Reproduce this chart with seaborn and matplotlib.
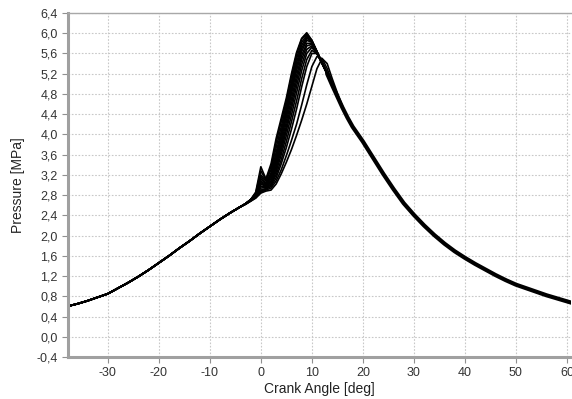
import pandas as pd
import seaborn as sns
import matplotlib.pyplot as plt
from matplotlib.ticker import FuncFormatter, MultipleLocator

# compression stroke, same for all cycles
comp_angle = [-38, -36, -34, -32, -30, -28, -26, -24, -22, -20, -18, -16, -14, -12, -10, -8, -6, -4]
comp_p = [0.60, 0.65, 0.71, 0.78, 0.85, 0.96, 1.07, 1.19, 1.32, 1.46, 1.60, 1.75, 1.89, 2.04,
          2.18, 2.32, 2.45, 2.57]

# expansion stroke, same for all cycles
exp_angle = [13, 14, 15, 16, 17, 18, 20, 22, 24, 26, 28, 30, 32, 34, 36, 38, 40,
             42, 44, 46, 48, 50, 52, 54, 56, 58, 61]
exp_p = [5.20, 4.97, 4.75, 4.53, 4.33, 4.15, 3.86, 3.54, 3.22, 2.92, 2.64, 2.41, 2.20,
         2.01, 1.84, 1.69, 1.56, 1.44, 1.33, 1.22, 1.12, 1.03, 0.96, 0.89, 0.82, 0.76, 0.67]

# combustion region, one list per cycle
comb_angle = [-3, -2, -1, 0, 1, 2, 3, 4, 5, 6, 7, 8, 9, 10, 11, 12, 13, 14, 15, 16, 17]
cycles = {
    'c01': [2.63, 2.71, 2.86, 3.36, 3.12, 3.42, 3.92, 4.32, 4.72, 5.20, 5.62, 5.90, 6.01, 5.86, 5.64, 5.42, 5.20, 4.97, 4.75, 4.53, 4.33],
    'c02': [2.63, 2.71, 2.84, 3.28, 3.10, 3.36, 3.84, 4.25, 4.66, 5.14, 5.58, 5.88, 5.99, 5.86, 5.64, 5.42, 5.20, 4.97, 4.75, 4.53, 4.33],
    'c03': [2.63, 2.71, 2.82, 3.20, 3.08, 3.30, 3.74, 4.15, 4.58, 5.04, 5.50, 5.82, 5.96, 5.85, 5.64, 5.42, 5.20, 4.97, 4.75, 4.53, 4.33],
    'c04': [2.63, 2.71, 2.82, 3.16, 3.04, 3.24, 3.64, 4.06, 4.50, 4.96, 5.42, 5.76, 5.93, 5.84, 5.63, 5.42, 5.20, 4.97, 4.75, 4.53, 4.33],
    'c05': [2.63, 2.71, 2.80, 3.12, 3.02, 3.20, 3.56, 3.98, 4.42, 4.88, 5.34, 5.70, 5.90, 5.83, 5.63, 5.42, 5.20, 4.97, 4.75, 4.53, 4.33],
    'c06': [2.63, 2.71, 2.80, 3.08, 3.00, 3.16, 3.50, 3.90, 4.34, 4.80, 5.26, 5.64, 5.86, 5.82, 5.62, 5.41, 5.20, 4.97, 4.75, 4.53, 4.33],
    'c07': [2.63, 2.70, 2.79, 3.05, 2.98, 3.12, 3.44, 3.82, 4.25, 4.70, 5.16, 5.56, 5.80, 5.80, 5.62, 5.41, 5.20, 4.97, 4.75, 4.53, 4.33],
    'c08': [2.63, 2.70, 2.78, 3.02, 2.97, 3.08, 3.38, 3.75, 4.16, 4.60, 5.06, 5.48, 5.75, 5.78, 5.61, 5.40, 5.20, 4.97, 4.75, 4.53, 4.33],
    'c09': [2.63, 2.70, 2.78, 2.98, 2.96, 3.05, 3.32, 3.68, 4.08, 4.50, 4.95, 5.38, 5.68, 5.75, 5.60, 5.40, 5.19, 4.97, 4.75, 4.53, 4.33],
    'c10': [2.63, 2.70, 2.77, 2.94, 2.95, 3.02, 3.26, 3.60, 3.98, 4.38, 4.82, 5.26, 5.60, 5.72, 5.60, 5.40, 5.19, 4.97, 4.75, 4.53, 4.33],
    'c11': [2.62, 2.69, 2.77, 2.90, 2.93, 3.00, 3.20, 3.50, 3.86, 4.25, 4.66, 5.10, 5.48, 5.66, 5.60, 5.42, 5.20, 4.97, 4.75, 4.53, 4.33],
    'c12': [2.62, 2.69, 2.76, 2.88, 2.92, 2.97, 3.14, 3.42, 3.74, 4.10, 4.50, 4.94, 5.34, 5.60, 5.60, 5.44, 5.22, 4.98, 4.75, 4.53, 4.33],
    'c13': [2.62, 2.68, 2.75, 2.86, 2.90, 2.94, 3.08, 3.30, 3.58, 3.88, 4.20, 4.58, 4.98, 5.34, 5.54, 5.50, 5.30, 5.03, 4.78, 4.54, 4.33],
    'c14': [2.62, 2.68, 2.74, 2.84, 2.88, 2.90, 3.02, 3.22, 3.45, 3.70, 3.98, 4.28, 4.60, 4.95, 5.30, 5.50, 5.40, 5.10, 4.82, 4.56, 4.34],
}

rows = []
for name, vals in cycles.items():
    for a, p in zip(comp_angle, comp_p):
        rows.append((name, a, p))
    for a, p in zip(comb_angle, vals):
        rows.append((name, a, p))
    for a, p in zip(exp_angle, exp_p):
        if a > comb_angle[-1]:
            rows.append((name, a, p))
data = pd.DataFrame(rows, columns=['cycle', 'angle', 'pressure'])

sns.set_style('whitegrid')
plt.rcParams['font.family'] = ['Liberation Sans', 'DejaVu Sans']
plt.rcParams['axes.unicode_minus'] = False

fig = plt.figure(figsize=(5.72, 3.99), dpi=100)
ax = fig.add_axes([68 / 572, 1 - 357 / 399, (571 - 68) / 572, (357 - 13) / 399])

sns.lineplot(data=data, x='angle', y='pressure', units='cycle', estimator=None,
             color='black', lw=1.2, ax=ax)
# overlapping cycles make the shared strokes look thick
sns.lineplot(x=comp_angle, y=comp_p, color='black', lw=1.5, ax=ax)
sns.lineplot(x=exp_angle, y=exp_p, color='black', lw=3.0, ax=ax)

ax.set_xlim(-37.8, 60.8)
ax.set_ylim(-0.4, 6.4)
ax.xaxis.set_major_locator(MultipleLocator(10))
ax.yaxis.set_major_locator(MultipleLocator(0.4))
ax.yaxis.set_major_formatter(FuncFormatter(lambda v, pos: f"{v:.1f}".replace('.', ',').replace('-0,0', '0,0')))

ax.grid(True, color='#c8c8c8', linestyle=(0, (1.5, 1.5)), lw=0.8)
for side in ['left', 'bottom']:
    ax.spines[side].set_color('#a0a0a0')
    ax.spines[side].set_linewidth(2.2)
ax.spines['top'].set_color('#a8a8a8')
ax.spines['top'].set_linewidth(1.0)
ax.spines['right'].set_visible(False)

ax.tick_params(axis='both', which='major', direction='out', length=4, width=0.8,
               color='#909090', labelsize=9, labelcolor='#333333', left=True, bottom=True)
ax.set_xlabel('Crank Angle [deg]', fontsize=10, color='#222222', labelpad=2)
ax.set_ylabel('Pressure [MPa]', fontsize=10, color='#222222', labelpad=8)

fig.savefig('out.png', dpi=100)
